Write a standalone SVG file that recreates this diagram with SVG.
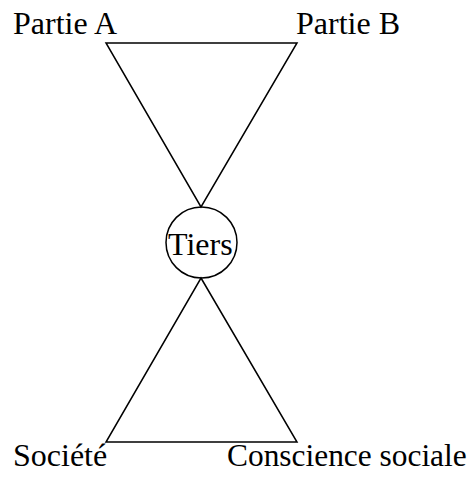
<svg xmlns="http://www.w3.org/2000/svg" width="470" height="477" viewBox="0 0 470 477">
<style>
text{font-family:"Liberation Serif","Times New Roman",serif;font-size:32px;fill:#000}
.ln{fill:none;stroke:#000;stroke-width:1.5}
</style>
<rect width="470" height="477" fill="#fff"/>
<g id="connectors">
<polygon class="ln" points="106,43 297,43 201,207"/>
<polygon class="ln" points="201,278 297,442 106,442"/>
</g>
<g id="partieA"><text x="13" y="34">Partie A</text></g>
<g id="partieB"><text x="296" y="34">Partie B</text></g>
<g id="tiers"><circle class="ln" cx="201.5" cy="242.5" r="35.5"/><text x="168" y="255">Tiers</text></g>
<g id="societe"><text x="13" y="466">Société</text></g>
<g id="conscience"><text x="227" y="466" style="font-size:31.4px">Conscience sociale</text></g>
</svg>
